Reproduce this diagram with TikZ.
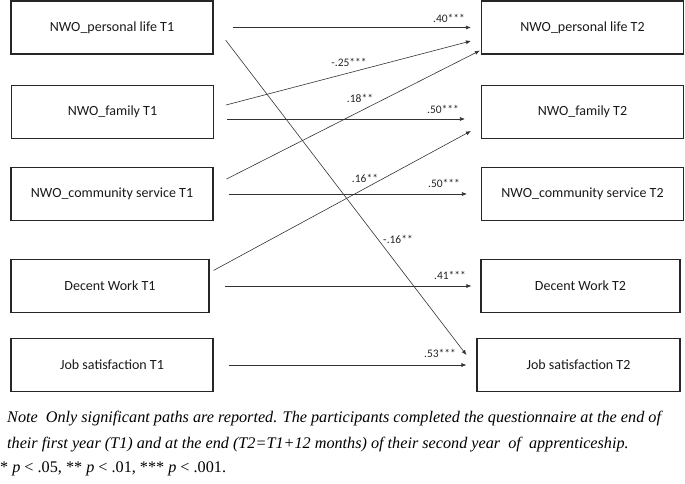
\documentclass[tikz,border=0pt]{standalone}
\usepackage{fontspec}
\setmainfont{Liberation Serif}
\newfontfamily\boxfont{Carlito}
\usetikzlibrary{arrows.meta}
\tikzset{
  var/.style={draw=black!85, line width=1.1pt, minimum width=202pt, minimum height=53pt,
    inner sep=0pt, font=\boxfont\fontsize{14}{16}\selectfont, text=black!90},
  eff/.style={-{Latex[length=5pt,width=4pt]}, line width=0.6pt, draw=black!80},
  coef/.style={inner sep=0pt, font=\boxfont\fontsize{11.5}{12}\selectfont, text=black!85},
  note/.style={inner sep=0pt, anchor=base west, font=\fontsize{16.2}{18}\selectfont}
}
\begin{document}
\begin{tikzpicture}[x=1pt, y=-1pt]
  \useasboundingbox (0,0) rectangle (685,484);

  % T1
  \node[var] (pl1) at (112,27.5) {NWO\_personal life T1};
  \node[var] (fa1) at (112.5,112) {NWO\_family T1};
  \node[var] (cs1) at (112,194) {NWO\_community service T1};
  \node[var, minimum width=198pt] (dw1) at (110,286) {Decent Work T1};
  \node[var] (js1) at (112,365) {Job satisfaction T1};

  % T2
  \node[var] (pl2) at (582.5,27.5) {NWO\_personal life T2};
  \node[var] (fa2) at (582.5,112) {NWO\_family T2};
  \node[var] (cs2) at (582.5,194) {NWO\_community service T2};
  \node[var, minimum width=199pt] (dw2) at (580.5,286) {Decent Work T2};
  \node[var, minimum width=203pt] (js2) at (578.5,365) {Job satisfaction T2};

  % stability paths
  \draw[eff, shorten <=19pt, shorten >=10pt] (pl1) -- (pl2);
  \draw[eff, shorten <=13pt, shorten >=16pt] ([yshift=-7pt]fa1.east) -- ([yshift=-7pt]fa2.west);
  \draw[eff, shorten <=15pt, shorten >=14pt] (cs1) -- (cs2);
  \draw[eff, shorten <=15pt, shorten >=9pt] (dw1) -- (dw2);
  \draw[eff, shorten <=15pt, shorten >=10pt] (js1) -- (js2);

  % cross-lagged paths
  \draw[eff] ([xshift=12pt,yshift=7pt]fa1.east) -- ([xshift=-10pt,yshift=-13.5pt]pl2.west);
  \draw[eff] ([xshift=13pt,yshift=15pt]cs1.east) -- ([xshift=-1pt,yshift=4pt]pl2.south west);
  \draw[eff] ([xshift=4pt,yshift=-11.5pt]dw1.north east) -- ([xshift=-10pt,yshift=-19pt]fa2.west);
  \draw[eff] ([xshift=12pt,yshift=-12.5pt]pl1.east) -- ([xshift=-10pt,yshift=10pt]js2.west);

  % coefficients
  \node[coef] (c1) at (449,18) {.40***};
  \node[coef] (c2) at (349,62) {-.25***};
  \node[coef] (c3) at (360,98) {.18**};
  \node[coef] (c4) at (443,109) {.50***};
  \node[coef] (c5) at (365,178) {.16**};
  \node[coef] (c6) at (444,183) {.50***};
  \node[coef] (c7) at (398,239) {-.16**};
  \node[coef] (c8) at (450,275) {.41***};
  \node[coef] (c9) at (440,353) {.53***};

  % note
  \node[note] (n1) at (7,422) {\itshape Note\ \ Only significant paths are reported. The participants completed the questionnaire at the end of};
  \node[note] (n2) at (7,448) {\itshape their first year (T1) and at the end (T2=T1+12 months) of their second year\ \ of\ \ apprenticeship.};
  \node[note] (n3) at (0,472) {* \textit{p} < .05, ** \textit{p} < .01, *** \textit{p} < .001.};
\end{tikzpicture}
\end{document}
